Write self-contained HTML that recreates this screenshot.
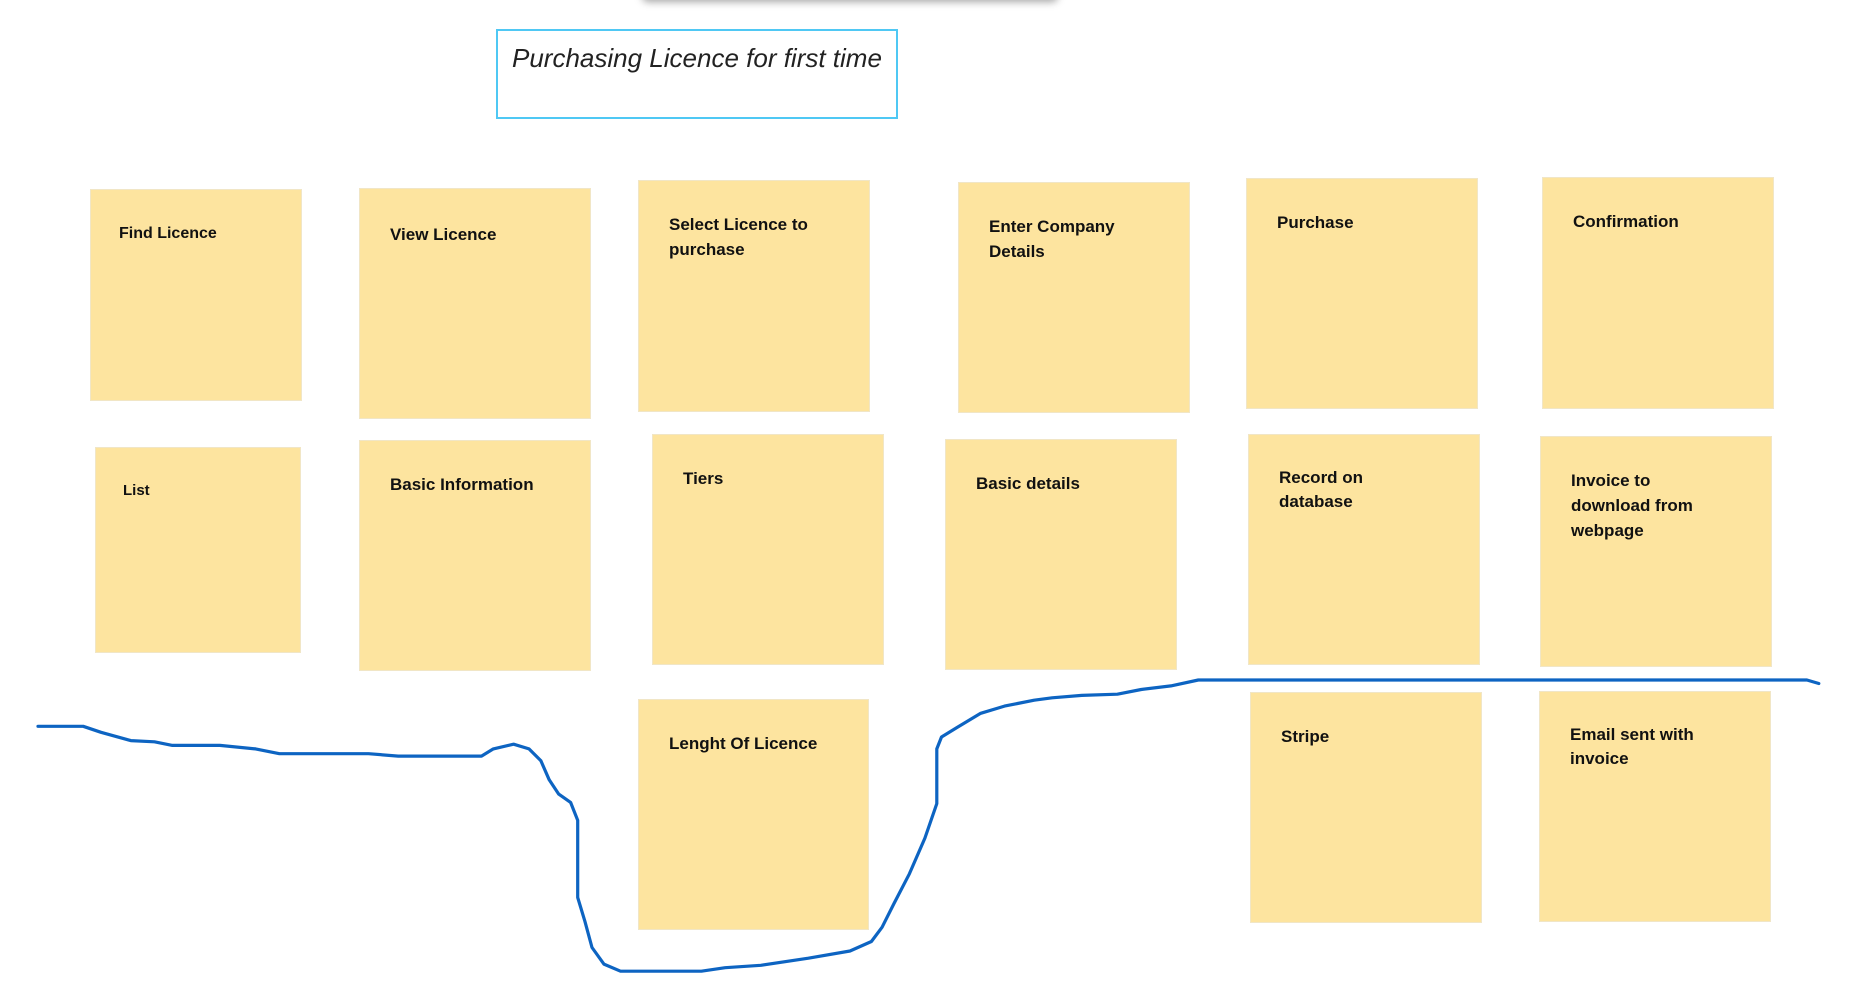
<!DOCTYPE html>
<html><head><meta charset="utf-8">
<style>
html,body{margin:0;padding:0;background:#fff;}
body{width:1864px;height:1004px;position:relative;overflow:hidden;font-family:"Segoe UI","Liberation Sans","DejaVu Sans",sans-serif;}
.note{position:absolute;background:#fde49f;border:1px solid #f1e6c6;box-sizing:border-box;}
.note span{position:absolute;left:30px;top:31px;right:10px;font-weight:bold;font-size:17px;line-height:25px;color:#111;white-space:nowrap;}
#title{position:absolute;left:496px;top:29px;width:402px;height:90px;box-sizing:border-box;border:2px solid #4fc8f4;}
#title span{position:absolute;left:14px;top:12px;font-family:"Liberation Sans",sans-serif;font-style:italic;font-size:26px;color:#222;}
#shadow{position:absolute;left:642px;top:-12px;width:416px;height:12px;box-shadow:0 2px 8px rgba(0,0,0,0.35);border-radius:6px;}
svg{position:absolute;left:0;top:0;}
</style></head><body>
<div id="shadow"></div>
<div id="title"><span>Purchasing Licence for first time</span></div>

<div class="note" style="left:90px;top:189px;width:212px;height:212px"><span style="font-size:16px;left:28px">Find Licence</span></div>
<div class="note" style="left:359px;top:188px;width:232px;height:231px"><span style="top:33px">View Licence</span></div>
<div class="note" style="left:638px;top:180px;width:232px;height:232px"><span>Select Licence to<br>purchase</span></div>
<div class="note" style="left:958px;top:182px;width:232px;height:231px"><span>Enter Company<br>Details</span></div>
<div class="note" style="left:1246px;top:178px;width:232px;height:231px"><span>Purchase</span></div>
<div class="note" style="left:1542px;top:177px;width:232px;height:232px"><span>Confirmation</span></div>

<div class="note" style="left:95px;top:447px;width:206px;height:206px"><span style="font-size:15px;top:30px;left:27px">List</span></div>
<div class="note" style="left:359px;top:440px;width:232px;height:231px"><span>Basic Information</span></div>
<div class="note" style="left:652px;top:434px;width:232px;height:231px"><span>Tiers</span></div>
<div class="note" style="left:945px;top:439px;width:232px;height:231px"><span>Basic details</span></div>
<div class="note" style="left:1248px;top:434px;width:232px;height:231px"><span style="line-height:24px">Record on<br>database</span></div>
<div class="note" style="left:1540px;top:436px;width:232px;height:231px"><span>Invoice to<br>download from<br>webpage</span></div>

<div class="note" style="left:638px;top:699px;width:231px;height:231px"><span>Lenght Of Licence</span></div>
<div class="note" style="left:1250px;top:692px;width:232px;height:231px"><span>Stripe</span></div>
<div class="note" style="left:1539px;top:691px;width:232px;height:231px"><span style="line-height:24px">Email sent with<br>invoice</span></div>

<svg width="1864" height="1004">
<path id="ink" fill="none" stroke="#0d64c2" stroke-width="3.2" stroke-linejoin="round" stroke-linecap="round"/>
</svg>
<script>
const inkX=[32,70,85,110,130,145,185,215,235,310,335,405,415,432,445,455,462,470,480,486,486,492,498,508,522,590,610,640,680,715,733,742,752,765,778,788,788,792,805,825,845,870,885,910,940,960,985,1008,1520,1530];
const inkY=[611,611,616,623,624,627,627,630,634,634,636,636,630,626,630,640,656,668,675,690,755,775,797,811,817,817,814,812,806,800,792,780,760,735,705,676,630,620,612,600,594,589,587,585,584,580,577,572,572,575];
const s=1864/1568;
let d='';
for(let i=0;i<inkX.length;i++){d+=(i?'L':'M')+(inkX[i]*s).toFixed(1)+','+(inkY[i]*s).toFixed(1);}
document.getElementById('ink').setAttribute('d',d);
</script>
</body></html>
